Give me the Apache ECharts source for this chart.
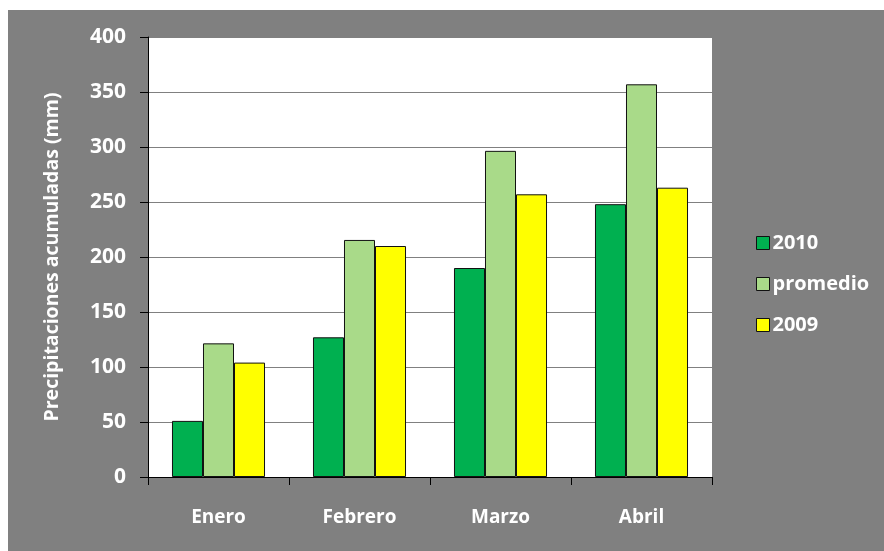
<!DOCTYPE html>
<html><head><meta charset="utf-8">
<script src="https://cdn.jsdelivr.net/npm/echarts@6/dist/echarts.min.js"></script>
<style>html,body{margin:0;padding:0;background:#fff}#c{width:884px;height:551px}</style>
</head><body><div id="c"></div>
<script>
const categories = ['Enero', 'Febrero', 'Marzo', 'Abril'];
const s2010 = [51, 127, 190, 248];
const promedio = [121.5, 215.5, 296.5, 357];
const s2009 = [104, 210, 257, 263];
const yTicks = [0, 50, 100, 150, 200, 250, 300, 350, 400];

const font = '"Open Sans", "DejaVu Sans", sans-serif';
const chart = echarts.init(document.getElementById('c'));
const barStyle = c => ({ color: c, borderColor: '#111', borderWidth: 1 });
chart.setOption({
  backgroundColor: '#ffffff',
  animation: false,
  graphic: [{ type: 'rect', z: -10, shape: { x: 8, y: 10, width: 900, height: 560 }, style: { fill: '#808080' } }],
  grid: { left: 148, right: 172, top: 37, bottom: 74, show: true, backgroundColor: '#ffffff', borderWidth: 0 },
  legend: {
    orient: 'vertical', left: 751, top: 228, itemWidth: 13, itemHeight: 13, itemGap: 21, itemStyle: { borderColor: '#111', borderWidth: 1 },
    icon: 'rect',
    textStyle: { color: '#ffffff', fontFamily: font, fontWeight: 'bold', fontSize: 20, padding: [0, 0, 0, -2] },
    data: ['2010', 'promedio', '2009']
  },
  xAxis: {
    type: 'category', data: categories,
    axisLine: { lineStyle: { color: '#000', width: 1 } },
    axisTick: { show: true, length: 8, alignWithLabel: false, lineStyle: { color: '#000' } },
    axisLabel: { color: '#ffffff', fontFamily: font, fontWeight: 'bold', fontSize: 19, margin: 31 }
  },
  yAxis: {
    type: 'value', min: 0, max: 400, interval: 50,
    name: 'Precipitaciones acumuladas (mm)', nameLocation: 'middle', nameGap: 86,
    nameTextStyle: { color: '#ffffff', fontFamily: font, fontWeight: 'bold', fontSize: 19.5 },
    axisLine: { show: true, lineStyle: { color: '#000', width: 1 } },
    axisTick: { show: true, length: 8, lineStyle: { color: '#000' } },
    axisLabel: { color: '#ffffff', fontFamily: font, fontWeight: 'bold', fontSize: 21, margin: 22,
      formatter: v => yTicks.includes(v) ? String(v) : '' },
    splitLine: { show: true, lineStyle: { color: '#808080', width: 1 } }
  },
  series: [
    { name: '2010', type: 'bar', data: s2010, itemStyle: barStyle('#00B050'), barGap: '0%', barCategoryGap: '34%' },
    { name: 'promedio', type: 'bar', data: promedio, itemStyle: barStyle('#A9DA89') },
    { name: '2009', type: 'bar', data: s2009, itemStyle: barStyle('#FFFF00') }
  ]
});
</script></body></html>
